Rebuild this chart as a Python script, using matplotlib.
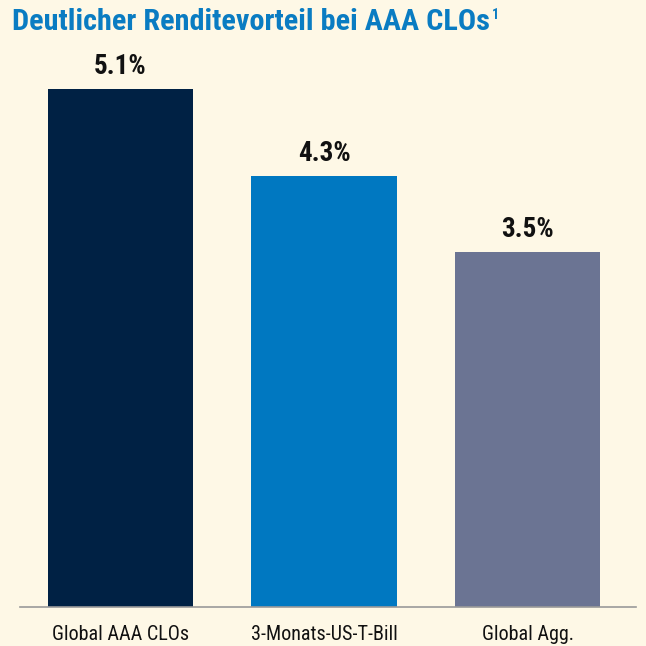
import matplotlib
matplotlib.use("Agg")
import matplotlib.pyplot as plt

categories = ["Global AAA CLOs", "3-Monats-US-T-Bill", "Global Agg."]
values = [5.1, 4.24, 3.49]
value_labels = ["5.1%", "4.3%", "3.5%"]
colors = ["#002144", "#0078C1", "#6B7493"]
title = "Deutlicher Renditevorteil bei AAA CLOs"
footnote_mark = "1"

fam = ["Roboto Condensed", "DejaVu Sans"]
W = H = 646
bg = "#FEF8E6"
fig = plt.figure(figsize=(6.46, 6.46), dpi=100, facecolor=bg)
ax = fig.add_axes([20/W, 39/H, 616/W, 547/H], facecolor=bg)

x = list(range(len(categories)))
ax.bar(x, values, width=0.716, color=colors)
for xi, v, lab in zip(x, values, value_labels):
    ax.annotate(lab, (xi, v), xytext=(0, 6.5), textcoords="offset points",
                ha="center", va="bottom", fontsize=19.5,
                fontweight="bold", family=fam, color="#111111")

ax.set_xlim(-0.494, 2.533)
ax.set_ylim(0, 547/101.6)
ax.set_xticks(x)
ax.set_xticklabels(categories, family=fam, fontsize=14.5, color="#111111")
ax.tick_params(axis="x", length=0, pad=13)
ax.set_yticks([])
for s in ["top", "right", "left"]:
    ax.spines[s].set_visible(False)
ax.spines["bottom"].set_color("#9A9A9A")
ax.spines["bottom"].set_linewidth(1.2)

t = fig.text(12/W, 1 - 29.5/H, title, ha="left", va="baseline",
             fontsize=21.8, fontweight="semibold", family=fam, color="#0A7CC2")
fig.canvas.draw()
bb = t.get_window_extent()
x1 = bb.x1 / W
fig.text(x1 + 2/W, 1 - 8/H, footnote_mark, ha="left", va="top",
         fontsize=10, fontweight="bold", family=fam, color="#0A7CC2")
fig.savefig("out.png", dpi=100, facecolor=bg)
